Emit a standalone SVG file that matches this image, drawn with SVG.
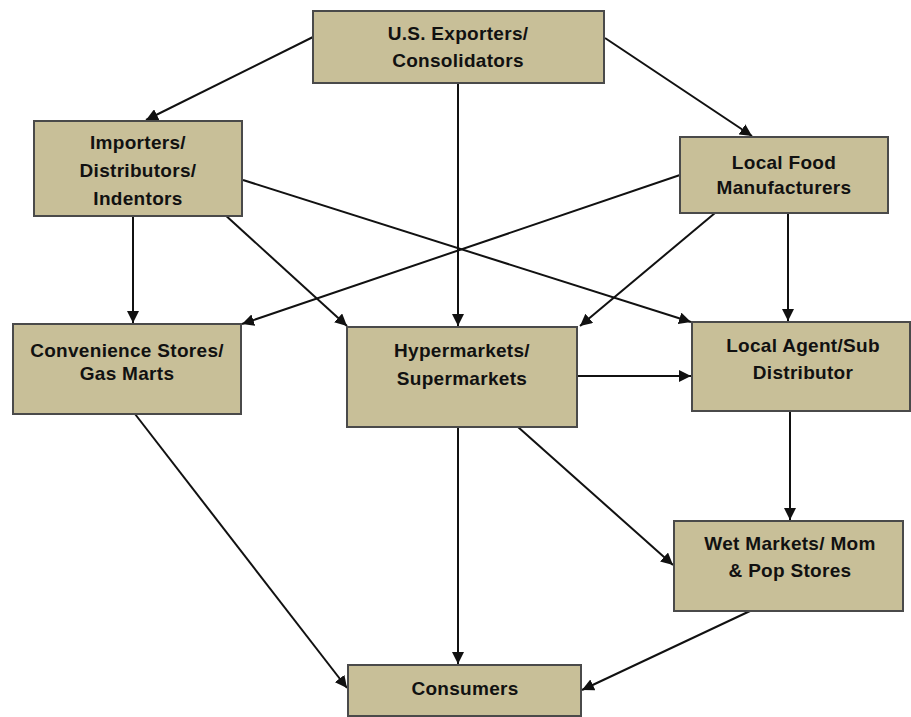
<svg xmlns="http://www.w3.org/2000/svg" width="911" height="717" viewBox="0 0 911 717">
<defs>
<style>
.box{fill:#c8bf98;stroke:#4a4a4a;stroke-width:2}
.t{font-family:"Liberation Sans",Arial,sans-serif;font-weight:bold;font-size:19px;fill:#111;text-anchor:middle;letter-spacing:0.3px}
.c{stroke:#111;stroke-width:2;fill:none;marker-end:url(#ah)}
</style>
<marker id="ah" viewBox="0 0 10 10" refX="10" refY="5" markerWidth="6" markerHeight="6" markerUnits="strokeWidth" orient="auto">
<path d="M0,0 L10,5 L0,10 z" fill="#111"/>
</marker>
</defs>
<rect width="911" height="717" fill="#fff"/>
<g id="connectors">
<line class="c" x1="313" y1="37" x2="146" y2="120"/>
<line class="c" x1="605" y1="38" x2="752" y2="136"/>
<line class="c" x1="458" y1="83" x2="458" y2="326"/>
<line class="c" x1="133" y1="216" x2="133" y2="323"/>
<line class="c" x1="223" y1="213" x2="347" y2="326"/>
<line class="c" x1="243" y1="180" x2="691" y2="322"/>
<line class="c" x1="680" y1="175" x2="242" y2="324"/>
<line class="c" x1="715" y1="213" x2="580" y2="326"/>
<line class="c" x1="788" y1="213" x2="788" y2="321"/>
<line class="c" x1="577" y1="376" x2="691" y2="376"/>
<line class="c" x1="790" y1="411" x2="790" y2="520"/>
<line class="c" x1="518" y1="427" x2="673" y2="565"/>
<line class="c" x1="458" y1="427" x2="458" y2="664"/>
<line class="c" x1="135" y1="414" x2="347" y2="688"/>
<line class="c" x1="750" y1="611" x2="582" y2="690"/>
</g>
<g id="us-exporters">
<rect class="box" x="313" y="11" width="291" height="72"/>
<text class="t" x="458" y="40">U.S. Exporters/</text>
<text class="t" x="458" y="67">Consolidators</text>
</g>
<g id="importers">
<rect class="box" x="34" y="121" width="208" height="95"/>
<text class="t" x="138" y="149">Importers/</text>
<text class="t" x="138" y="177">Distributors/</text>
<text class="t" x="138" y="205">Indentors</text>
</g>
<g id="local-food">
<rect class="box" x="680" y="137" width="208" height="76"/>
<text class="t" x="784" y="169">Local Food</text>
<text class="t" x="784" y="194">Manufacturers</text>
</g>
<g id="convenience">
<rect class="box" x="13" y="324" width="228" height="90"/>
<text class="t" x="127" y="357">Convenience Stores/</text>
<text class="t" x="127" y="380">Gas Marts</text>
</g>
<g id="hypermarkets">
<rect class="box" x="347" y="327" width="230" height="100"/>
<text class="t" x="462" y="357">Hypermarkets/</text>
<text class="t" x="462" y="385">Supermarkets</text>
</g>
<g id="local-agent">
<rect class="box" x="692" y="322" width="218" height="89"/>
<text class="t" x="803" y="352">Local Agent/Sub</text>
<text class="t" x="803" y="379">Distributor</text>
</g>
<g id="wet-markets">
<rect class="box" x="674" y="521" width="229" height="90"/>
<text class="t" x="790" y="550">Wet Markets/ Mom</text>
<text class="t" x="790" y="577">&amp; Pop Stores</text>
</g>
<g id="consumers">
<rect class="box" x="348" y="665" width="233" height="51"/>
<text class="t" x="465" y="695">Consumers</text>
</g>
</svg>
